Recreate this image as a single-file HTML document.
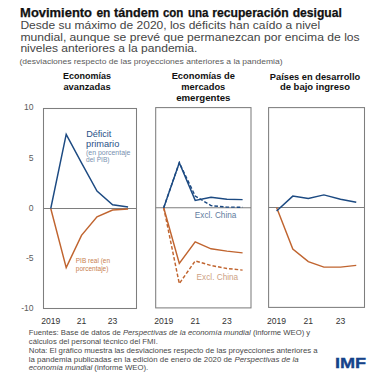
<!DOCTYPE html><html><head><meta charset="utf-8"><style>html,body{margin:0;padding:0;background:#fff;}svg{display:block;}text{font-family:"Liberation Sans",sans-serif;}</style></head><body>
<svg width="384" height="384" viewBox="0 0 384 384">
<rect width="384" height="384" fill="#fff"/>
<text x="20.1" y="16.6" font-size="12.4" fill="#111" font-weight="bold" text-anchor="start" textLength="71.92" lengthAdjust="spacingAndGlyphs" stroke="#111" stroke-width="0.25">Movimiento</text>
<text x="96.44" y="16.6" font-size="12.4" fill="#111" font-weight="bold" text-anchor="start" textLength="14.01" lengthAdjust="spacingAndGlyphs" stroke="#111" stroke-width="0.25">en</text>
<text x="114.11" y="16.6" font-size="12.4" fill="#111" font-weight="bold" text-anchor="start" textLength="44.79" lengthAdjust="spacingAndGlyphs" stroke="#111" stroke-width="0.25">tándem</text>
<text x="162.93" y="16.6" font-size="12.4" fill="#111" font-weight="bold" text-anchor="start" textLength="20.47" lengthAdjust="spacingAndGlyphs" stroke="#111" stroke-width="0.25">con</text>
<text x="187.9" y="16.6" font-size="12.4" fill="#111" font-weight="bold" text-anchor="start" textLength="20.6" lengthAdjust="spacingAndGlyphs" stroke="#111" stroke-width="0.25">una</text>
<text x="212.22" y="16.6" font-size="12.4" fill="#111" font-weight="bold" text-anchor="start" textLength="76.45" lengthAdjust="spacingAndGlyphs" stroke="#111" stroke-width="0.25">recuperación</text>
<text x="292.67" y="16.6" font-size="12.4" fill="#111" font-weight="bold" text-anchor="start" textLength="49.13" lengthAdjust="spacingAndGlyphs" stroke="#111" stroke-width="0.25">desigual</text>
<text x="20.4" y="28.6" font-size="10.6" fill="#444" font-weight="normal" text-anchor="start" textLength="299.8" lengthAdjust="spacingAndGlyphs" >Desde su máximo de 2020, los déficits han caído a nivel</text>
<text x="20.4" y="40.5" font-size="10.6" fill="#444" font-weight="normal" text-anchor="start" textLength="339.3" lengthAdjust="spacingAndGlyphs" >mundial, aunque se prevé que permanezcan por encima de los</text>
<text x="20.4" y="52.2" font-size="10.6" fill="#444" font-weight="normal" text-anchor="start" textLength="177" lengthAdjust="spacingAndGlyphs" >niveles anteriores a la pandemia.</text>
<text x="19.5" y="64.3" font-size="8.0" fill="#5a5a5a" font-weight="normal" text-anchor="start" textLength="263" lengthAdjust="spacingAndGlyphs" >(desviaciones respecto de las proyecciones anteriores a la pandemia)</text>
<text x="87" y="79.2" font-size="9.2" fill="#111" font-weight="bold" text-anchor="middle" textLength="48" lengthAdjust="spacingAndGlyphs" >Economías</text>
<text x="87" y="89.8" font-size="9.2" fill="#111" font-weight="bold" text-anchor="middle" textLength="47.2" lengthAdjust="spacingAndGlyphs" >avanzadas</text>
<text x="203.3" y="78.5" font-size="9.2" fill="#111" font-weight="bold" text-anchor="middle" textLength="63.3" lengthAdjust="spacingAndGlyphs" >Economías de</text>
<text x="203.3" y="89.8" font-size="9.2" fill="#111" font-weight="bold" text-anchor="middle" textLength="44" lengthAdjust="spacingAndGlyphs" >mercados</text>
<text x="203.3" y="101.0" font-size="9.2" fill="#111" font-weight="bold" text-anchor="middle" textLength="54.3" lengthAdjust="spacingAndGlyphs" >emergentes</text>
<text x="315" y="79.8" font-size="9.2" fill="#111" font-weight="bold" text-anchor="middle" textLength="90.3" lengthAdjust="spacingAndGlyphs" >Países en desarrollo</text>
<text x="315" y="90.4" font-size="9.2" fill="#111" font-weight="bold" text-anchor="middle" textLength="70.2" lengthAdjust="spacingAndGlyphs" >de bajo ingreso</text>
<text x="33.6" y="110.4" font-size="8.6" fill="#5c5c5c" font-weight="normal" text-anchor="end" >10</text>
<text x="33.6" y="160.6" font-size="8.6" fill="#5c5c5c" font-weight="normal" text-anchor="end" >5</text>
<text x="33.6" y="210.6" font-size="8.6" fill="#5c5c5c" font-weight="normal" text-anchor="end" >0</text>
<text x="33.6" y="261.0" font-size="8.6" fill="#5c5c5c" font-weight="normal" text-anchor="end" >-5</text>
<text x="33.6" y="310.8" font-size="8.6" fill="#5c5c5c" font-weight="normal" text-anchor="end" >-10</text>
<rect x="43.5" y="108.5" width="93.00" height="200.00" fill="none" stroke="#7e7e7e" stroke-width="1.05"/>
<line x1="43.5" y1="208.5" x2="136.5" y2="208.5" stroke="#7e7e7e" stroke-width="1.05"/>
<text x="50.75" y="324.4" font-size="8.6" fill="#333" font-weight="normal" text-anchor="middle" >2019</text>
<text x="81.5" y="324.4" font-size="8.6" fill="#333" font-weight="normal" text-anchor="middle" >21</text>
<text x="112.6" y="324.4" font-size="8.6" fill="#333" font-weight="normal" text-anchor="middle" >23</text>
<rect x="155.7" y="107.6" width="95.30" height="200.30" fill="none" stroke="#7e7e7e" stroke-width="1.05"/>
<line x1="155.7" y1="207.7" x2="251.0" y2="207.7" stroke="#7e7e7e" stroke-width="1.05"/>
<text x="163.7" y="324.4" font-size="8.6" fill="#333" font-weight="normal" text-anchor="middle" >2019</text>
<text x="195.2" y="324.4" font-size="8.6" fill="#333" font-weight="normal" text-anchor="middle" >21</text>
<text x="226.9" y="324.4" font-size="8.6" fill="#333" font-weight="normal" text-anchor="middle" >23</text>
<rect x="268.6" y="107.6" width="95.90" height="199.80" fill="none" stroke="#7e7e7e" stroke-width="1.05"/>
<line x1="268.6" y1="207.5" x2="364.5" y2="207.5" stroke="#7e7e7e" stroke-width="1.05"/>
<text x="276.6" y="324.4" font-size="8.6" fill="#333" font-weight="normal" text-anchor="middle" >2019</text>
<text x="308.3" y="324.4" font-size="8.6" fill="#333" font-weight="normal" text-anchor="middle" >21</text>
<text x="340.5" y="324.4" font-size="8.6" fill="#333" font-weight="normal" text-anchor="middle" >23</text>
<polyline points="50.75,208.50 66.20,267.60 81.50,235.40 97.00,216.90 112.60,210.00 128.10,209.00" fill="none" stroke="#c0642f" stroke-width="1.45" stroke-linejoin="miter"/>
<polyline points="50.75,208.50 66.20,134.40 81.50,162.80 97.00,191.00 112.60,204.80 128.10,207.00" fill="none" stroke="#1c4a82" stroke-width="1.45" stroke-linejoin="miter"/>
<polyline points="163.70,207.70 179.30,263.40 195.20,241.90 211.00,248.80 226.90,251.10 242.60,252.90" fill="none" stroke="#c0642f" stroke-width="1.45" stroke-linejoin="miter"/>
<polyline points="163.70,207.70 179.30,283.60 195.20,260.90 211.00,265.50 226.90,268.50 242.60,270.10" fill="none" stroke="#c0642f" stroke-width="1.45" stroke-linejoin="miter" stroke-dasharray="3.6,2"/>
<polyline points="163.70,207.70 179.30,162.70 195.20,200.40 211.00,197.20 226.90,199.30 242.60,199.60" fill="none" stroke="#1c4a82" stroke-width="1.45" stroke-linejoin="miter"/>
<polyline points="163.70,207.70 179.30,162.70 195.20,196.00 211.00,205.60 226.90,207.10 242.60,207.20" fill="none" stroke="#1c4a82" stroke-width="1.45" stroke-linejoin="miter" stroke-dasharray="3.6,2"/>
<polyline points="276.60,207.50 292.80,249.10 308.30,261.60 323.90,267.10 340.50,267.10 356.25,265.40" fill="none" stroke="#c0642f" stroke-width="1.45" stroke-linejoin="miter"/>
<polyline points="276.60,211.00 292.80,196.10 308.30,198.50 323.90,194.90 340.50,199.20 356.25,202.30" fill="none" stroke="#1c4a82" stroke-width="1.45" stroke-linejoin="miter"/>
<text x="86.2" y="136.6" font-size="9.4" fill="#2a5188" font-weight="normal" text-anchor="start" textLength="25.2" lengthAdjust="spacingAndGlyphs" >Déficit</text>
<text x="86.0" y="146.9" font-size="9.4" fill="#2a5188" font-weight="normal" text-anchor="start" textLength="33.3" lengthAdjust="spacingAndGlyphs" >primario</text>
<text x="86.0" y="155.3" font-size="6.8" fill="#7890b0" font-weight="normal" text-anchor="start" textLength="44.4" lengthAdjust="spacingAndGlyphs" >(en porcentaje</text>
<text x="86.0" y="162.4" font-size="6.8" fill="#7890b0" font-weight="normal" text-anchor="start" textLength="23.5" lengthAdjust="spacingAndGlyphs" >del PIB)</text>
<text x="75.8" y="262.6" font-size="7.3" fill="#c8804f" font-weight="normal" text-anchor="start" textLength="34.2" lengthAdjust="spacingAndGlyphs" >PIB real (en</text>
<text x="75.8" y="270.6" font-size="7.3" fill="#c8804f" font-weight="normal" text-anchor="start" textLength="32.6" lengthAdjust="spacingAndGlyphs" >porcentaje)</text>
<text x="194.8" y="217.5" font-size="9.1" fill="#627c9e" font-weight="normal" text-anchor="start" textLength="41.6" lengthAdjust="spacingAndGlyphs" >Excl. China</text>
<text x="196.6" y="279.5" font-size="9.1" fill="#cda184" font-weight="normal" text-anchor="start" textLength="41.6" lengthAdjust="spacingAndGlyphs" >Excl. China</text>
<text x="28.8" y="335.3" font-size="7.35" fill="#484848" font-weight="normal" text-anchor="start" textLength="281.4" lengthAdjust="spacingAndGlyphs" >Fuentes: Base de datos de <tspan font-style="italic">Perspectivas de la economía mundial</tspan> (informe WEO) y</text>
<text x="28.8" y="344.0" font-size="7.35" fill="#484848" font-weight="normal" text-anchor="start" textLength="129" lengthAdjust="spacingAndGlyphs" >cálculos del personal técnico del FMI.</text>
<text x="28.8" y="352.7" font-size="7.35" fill="#484848" font-weight="normal" text-anchor="start" textLength="288.8" lengthAdjust="spacingAndGlyphs" >Nota: El gráfico muestra las desviaciones respecto de las proyecciones anteriores a</text>
<text x="28.8" y="361.5" font-size="7.35" fill="#484848" font-weight="normal" text-anchor="start" textLength="269.8" lengthAdjust="spacingAndGlyphs" >la pandemia publicadas en la edición de enero de 2020 de <tspan font-style="italic">Perspectivas de la</tspan></text>
<text x="28.8" y="369.8" font-size="7.35" fill="#484848" font-weight="normal" text-anchor="start" textLength="119.5" lengthAdjust="spacingAndGlyphs" ><tspan font-style="italic">economía mundial</tspan> (informe WEO).</text>
<text x="334.9" y="368.2" font-size="15.5" font-weight="bold" fill="#15428a" stroke="#15428a" stroke-width="0.35" textLength="31.2" lengthAdjust="spacingAndGlyphs">IMF</text>
</svg></body></html>
